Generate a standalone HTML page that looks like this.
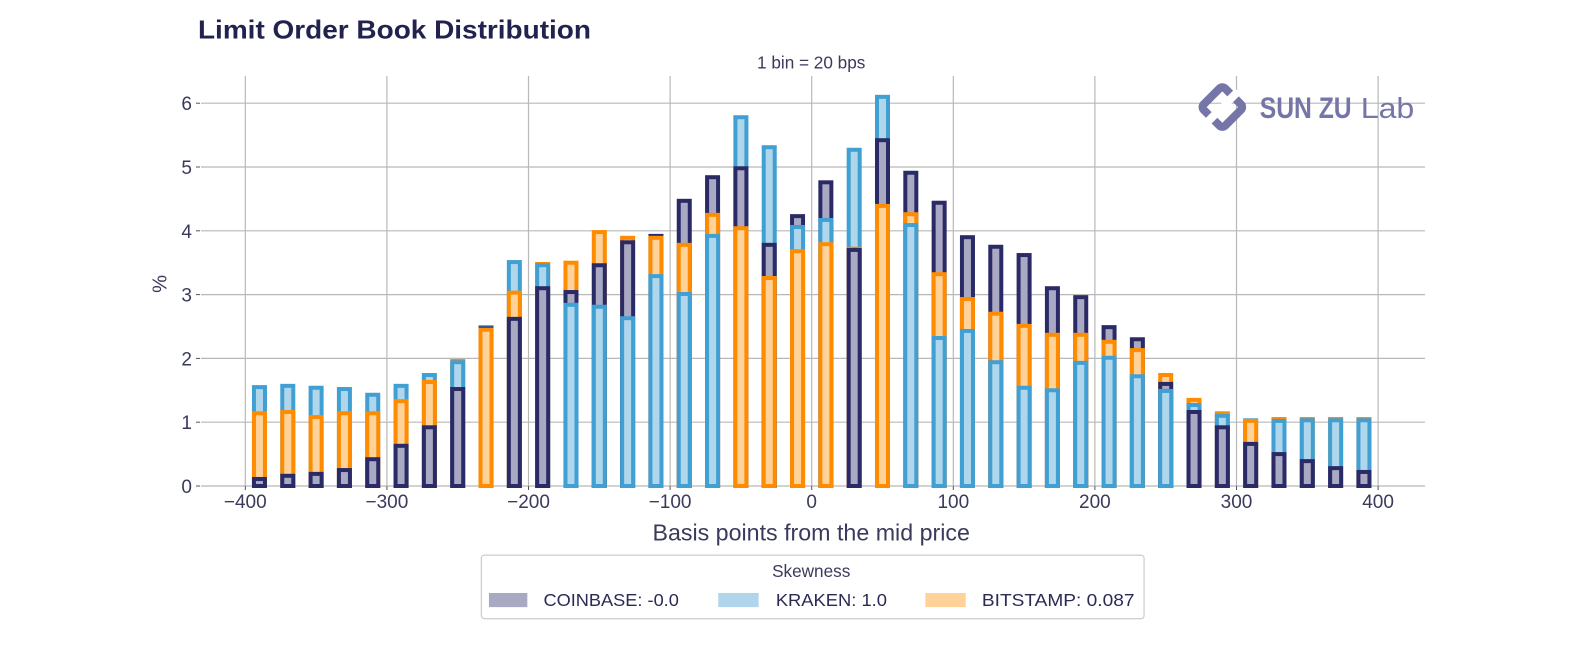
<!DOCTYPE html>
<html><head><meta charset="utf-8"><style>
html,body{margin:0;padding:0;background:#fff;}
svg{display:block;font-family:"Liberation Sans",sans-serif;}
</style></head><body>
<svg id="chart" width="1584" height="648" viewBox="0 0 1584 648" xmlns="http://www.w3.org/2000/svg">
<g id="grid"></g>
<g id="bars"></g>
<g id="axes"></g>
<g transform="scale(1.0102)">
<text x="196" y="38" font-size="26" font-weight="bold" fill="#22224f" textLength="389" lengthAdjust="spacingAndGlyphs">Limit Order Book Distribution</text>
<text x="803" y="68" font-size="17" fill="#3a3a5c" text-anchor="middle">1 bin = 20 bps</text>
<text transform="translate(165,281) rotate(-90)" font-size="20" fill="#3a3a5c" text-anchor="middle">%</text>
<text x="803" y="535" font-size="23" fill="#3a3a5c" text-anchor="middle">Basis points from the mid price</text>
<g>
<g transform="translate(1210,106) rotate(45)">
<rect x="-15" y="-15" width="30" height="30" rx="4" fill="none" stroke="#7575a8" stroke-width="8"/>
<rect x="-4" y="-22" width="8" height="20" fill="#fff"/>
<rect x="-4" y="2" width="8" height="20" fill="#fff"/>
</g>
<text x="1247" y="117" font-size="29" font-weight="bold" fill="#7575a8" textLength="91" lengthAdjust="spacingAndGlyphs">SUN ZU</text>
<text x="1347" y="117" font-size="28" fill="#7575a8" textLength="53" lengthAdjust="spacingAndGlyphs">Lab</text>
</g>
<g>
<rect x="476.5" y="549.5" width="656" height="63" rx="3" fill="#fff" stroke="#cccccc" stroke-width="1.2"/>
<text x="803" y="571" font-size="17" fill="#3a3a5c" text-anchor="middle">Skewness</text>
<rect x="484" y="587" width="38" height="14" fill="#a9a9c3"/>
<text x="538" y="600" font-size="17" fill="#2a2a55" textLength="134" lengthAdjust="spacingAndGlyphs">COINBASE: -0.0</text>
<rect x="711" y="587" width="40" height="14" fill="#b0d6ec"/>
<text x="768" y="600" font-size="17" fill="#2a2a55" textLength="110" lengthAdjust="spacingAndGlyphs">KRAKEN: 1.0</text>
<rect x="916" y="587" width="40" height="14" fill="#ffd299"/>
<text x="972" y="600" font-size="17" fill="#2a2a55" textLength="151" lengthAdjust="spacingAndGlyphs">BITSTAMP: 0.087</text>
</g>
</g>
</svg>
<script>
const bins = [-390,-370,-350,-330,-310,-290,-270,-250,-230,-210,-190,-170,-150,-130,-110,-90,-70,-50,-30,-10,10,30,50,70,90,110,130,150,170,190,210,230,250,270,290,310,330,350,370,390];
const coinbase = [0.11,0.16,0.19,0.25,0.42,0.63,0.92,1.52,2.47,2.62,3.10,3.04,3.46,3.82,3.92,4.47,4.84,4.98,3.78,4.23,4.76,3.70,5.42,4.91,4.44,3.90,3.75,3.62,3.10,2.96,2.49,2.30,1.60,1.16,0.92,0.66,0.50,0.39,0.28,0.22];
const kraken = [1.55,1.57,1.54,1.52,1.43,1.57,1.74,1.94,2.49,3.51,3.46,2.84,2.81,2.63,3.29,3.01,3.92,5.78,5.31,4.06,4.17,5.27,6.10,4.09,2.32,2.43,1.94,1.54,1.50,1.93,2.01,1.72,1.49,1.27,1.10,1.03,1.02,1.03,1.03,1.03];
const bitstamp = [1.14,1.16,1.08,1.14,1.14,1.33,1.63,1.96,2.45,3.03,3.48,3.50,3.98,3.89,3.89,3.78,4.25,4.04,3.26,3.68,3.79,3.72,4.39,4.26,3.32,2.93,2.70,2.51,2.37,2.37,2.26,2.13,1.74,1.35,1.14,1.02,1.05,1.05,1.05,1.05];
const xTicks = [-400,-300,-200,-100,0,100,200,300,400];
const yTicks = [0,1,2,3,4,5,6];

const NS = "http://www.w3.org/2000/svg";
const xs = v => 245.3 + (v + 400) * 1.416;
const ys = v => 486 - v * 63.8;
function mk(tag, attrs, parent) {
  const e = document.createElementNS(NS, tag);
  for (const k in attrs) e.setAttribute(k, attrs[k]);
  parent.appendChild(e);
  return e;
}
const grid = document.getElementById('grid');
const axes = document.getElementById('axes');
const barsG = document.getElementById('bars');
yTicks.forEach(t => {
  const l = mk('line', {x1: 201, x2: 1425, y1: ys(t), y2: ys(t), stroke: '#b8b8b8', 'stroke-width': 1.2}, grid);
  
  
  mk('line', {x1: 196, x2: 200, y1: ys(t), y2: ys(t), stroke: '#555', 'stroke-width': 1}, axes);
  const tx = mk('text', {x: 192, y: ys(t) + 7, 'font-size': 19, fill: '#3a3a5c', 'text-anchor': 'end'}, axes);
  tx.textContent = t;
  
  
});
xTicks.forEach(t => {
  const l = mk('line', {x1: xs(t), x2: xs(t), y1: 76, y2: 486, stroke: '#b8b8b8', 'stroke-width': 1.2}, grid);
  
  
  mk('line', {x1: xs(t), x2: xs(t), y1: 486, y2: 490, stroke: '#555', 'stroke-width': 1}, axes);
  const tx = mk('text', {x: xs(t), y: 508, 'font-size': 19, fill: '#3a3a5c', 'text-anchor': 'middle'}, axes);
  tx.textContent = t < 0 ? '\u2212' + Math.abs(t) : String(t);
  
  
});
const series = [
  {name: 'coinbase', vals: coinbase, fill: '#a9a9c3', edge: '#2a2a66'},
  {name: 'kraken', vals: kraken, fill: '#b0d6ec', edge: '#409fd3'},
  {name: 'bitstamp', vals: bitstamp, fill: '#ffd299', edge: '#ff8c00'}
];
const bw = 10.6 * 1.416;
bins.forEach((b, i) => {
  const order = series.slice().sort((a, c) => c.vals[i] - a.vals[i]);
  order.forEach(s => {
    const v = s.vals[i];
    const top = ys(v);
    const r = mk('rect', {x: xs(b) - bw / 2 + 2, y: top, width: bw - 4, height: Math.max(0, 486 - top),
      fill: s.fill, stroke: s.edge, 'stroke-width': 4}, barsG);
    
    
  });
});
</script>
</body></html>
